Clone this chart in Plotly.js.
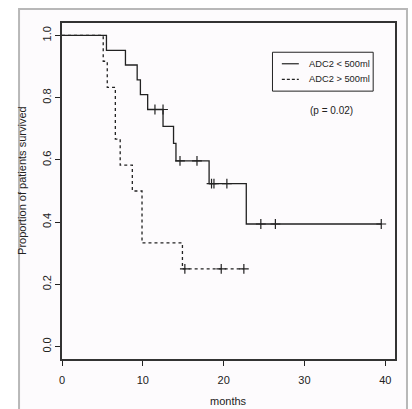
<!DOCTYPE html>
<html>
<head>
<meta charset="utf-8">
<script src="https://cdn.plot.ly/plotly-3.0.1.min.js"></script>
<style>html,body{margin:0;padding:0;background:#fff;}#chart{width:412px;height:409px;}</style>
</head>
<body>
<div id="chart"></div>
<script>
// Group 1: ADC2 < 500ml (solid)
const lowTimes = [0, 5.5, 7.85, 9.3, 9.7, 10.6, 12.5, 13.8, 14.1, 18.2, 22.8, 39.5];
const lowSurv  = [1.0, 0.952, 0.905, 0.857, 0.81, 0.762, 0.708, 0.653, 0.597, 0.524, 0.394, 0.394];
const lowCensTimes = [11.5, 12.5, 14.6, 16.7, 18.5, 18.8, 20.4, 24.6, 26.4, 39.5];
const lowCensSurv  = [0.762, 0.762, 0.597, 0.597, 0.524, 0.524, 0.524, 0.394, 0.394, 0.394];

// Group 2: ADC2 > 500ml (dashed)
const highTimes = [0, 5.1, 5.6, 6.6, 7.2, 8.7, 9.9, 14.9, 22.5];
const highSurv  = [1.0, 0.917, 0.833, 0.667, 0.583, 0.5, 0.333, 0.25, 0.25];
const highCensTimes = [15.2, 19.7, 22.5];
const highCensSurv  = [0.25, 0.25, 0.25];

const xTicks = [0, 10, 20, 30, 40];
const yTicks = [0.0, 0.2, 0.4, 0.6, 0.8, 1.0];
const legendLabels = ['ADC2 < 500ml', 'ADC2 > 500ml'];
const pText = '(p = 0.02)';

const ink = '#222';
const font = 'Liberation Sans, Arial, sans-serif';

const traces = [
  {x: lowTimes, y: lowSurv, mode: 'lines', line: {shape: 'hv', color: ink, width: 1.3}, showlegend: false, hoverinfo: 'skip'},
  {x: highTimes, y: highSurv, mode: 'lines', line: {shape: 'hv', color: ink, width: 1.3, dash: '3px,3px'}, showlegend: false, hoverinfo: 'skip'},
  {x: lowCensTimes, y: lowCensSurv, mode: 'markers', marker: {symbol: 'cross-thin', size: 7, line: {color: ink, width: 1.2}}, showlegend: false, hoverinfo: 'skip'},
  {x: highCensTimes, y: highCensSurv, mode: 'markers', marker: {symbol: 'cross-thin', size: 7, line: {color: ink, width: 1.2}}, showlegend: false, hoverinfo: 'skip'}
];

const layout = {
  width: 412, height: 409,
  margin: {l: 62, r: 17, t: 23, b: 50},
  paper_bgcolor: '#ffffff',
  plot_bgcolor: 'rgba(0,0,0,0)',
  font: {family: font, size: 11, color: ink},
  showlegend: false,
  xaxis: {
    range: [0, 41.2], tickvals: xTicks, ticktext: xTicks.map(String),
    ticks: 'outside', ticklen: 5, tickcolor: ink, tickwidth: 1, ticklabelstandoff: 5,
    showline: true, linecolor: '#333', linewidth: 1.6, mirror: true,
    showgrid: false, zeroline: false, tickfont: {size: 11, family: font, color: ink}
  },
  yaxis: {
    range: [-0.04, 1.04], tickvals: yTicks, ticktext: yTicks.map(v => v.toFixed(1)),
    ticks: 'outside', ticklen: 5, tickcolor: ink, tickwidth: 1, tickangle: -90,
    showline: true, linecolor: '#333', linewidth: 1.6, mirror: true,
    showgrid: false, zeroline: false, tickfont: {size: 11, family: font, color: ink}
  },
  shapes: [
    {type: 'rect', xref: 'paper', yref: 'paper', x0: -0.129, x1: 1.036, y0: -0.25, y1: 1.042,
     line: {color: '#b8b8b8', width: 2}, fillcolor: '#fdfbfd', layer: 'below'},
    {type: 'rect', xref: 'x', yref: 'y', x0: 26.04, x1: 38.5, y0: 0.821, y1: 0.946,
     line: {color: ink, width: 1}, fillcolor: 'rgba(0,0,0,0)'},
    {type: 'line', xref: 'x', yref: 'y', x0: 27.2, x1: 29.3, y0: 0.909, y1: 0.909,
     line: {color: ink, width: 1.2}},
    {type: 'line', xref: 'x', yref: 'y', x0: 27.2, x1: 29.3, y0: 0.859, y1: 0.859,
     line: {color: ink, width: 1.2, dash: '3px,2px'}}
  ],
  annotations: [
    {xref: 'x', yref: 'y', x: 30.3, y: 0.909, text: legendLabels[0], showarrow: false, xanchor: 'left', yanchor: 'middle', font: {size: 9.3, family: font, color: ink}},
    {xref: 'x', yref: 'y', x: 30.3, y: 0.859, text: legendLabels[1], showarrow: false, xanchor: 'left', yanchor: 'middle', font: {size: 9.3, family: font, color: ink}},
    {xref: 'x', yref: 'y', x: 33.4, y: 0.76, text: pText, showarrow: false, xanchor: 'center', yanchor: 'middle', font: {size: 10, family: font, color: ink}},
    {xref: 'paper', yref: 'paper', x: 0.5, y: -0.125, text: 'months', showarrow: false, xanchor: 'center', yanchor: 'middle', font: {size: 11, family: font, color: ink}},
    {xref: 'paper', yref: 'paper', x: -0.12, y: 0.53, text: 'Proportion of patients survived', textangle: -90, showarrow: false, xanchor: 'center', yanchor: 'middle', font: {size: 11, family: font, color: ink}}
  ]
};

Plotly.newPlot('chart', traces, layout, {displayModeBar: false, staticPlot: true});
</script>
</body>
</html>
